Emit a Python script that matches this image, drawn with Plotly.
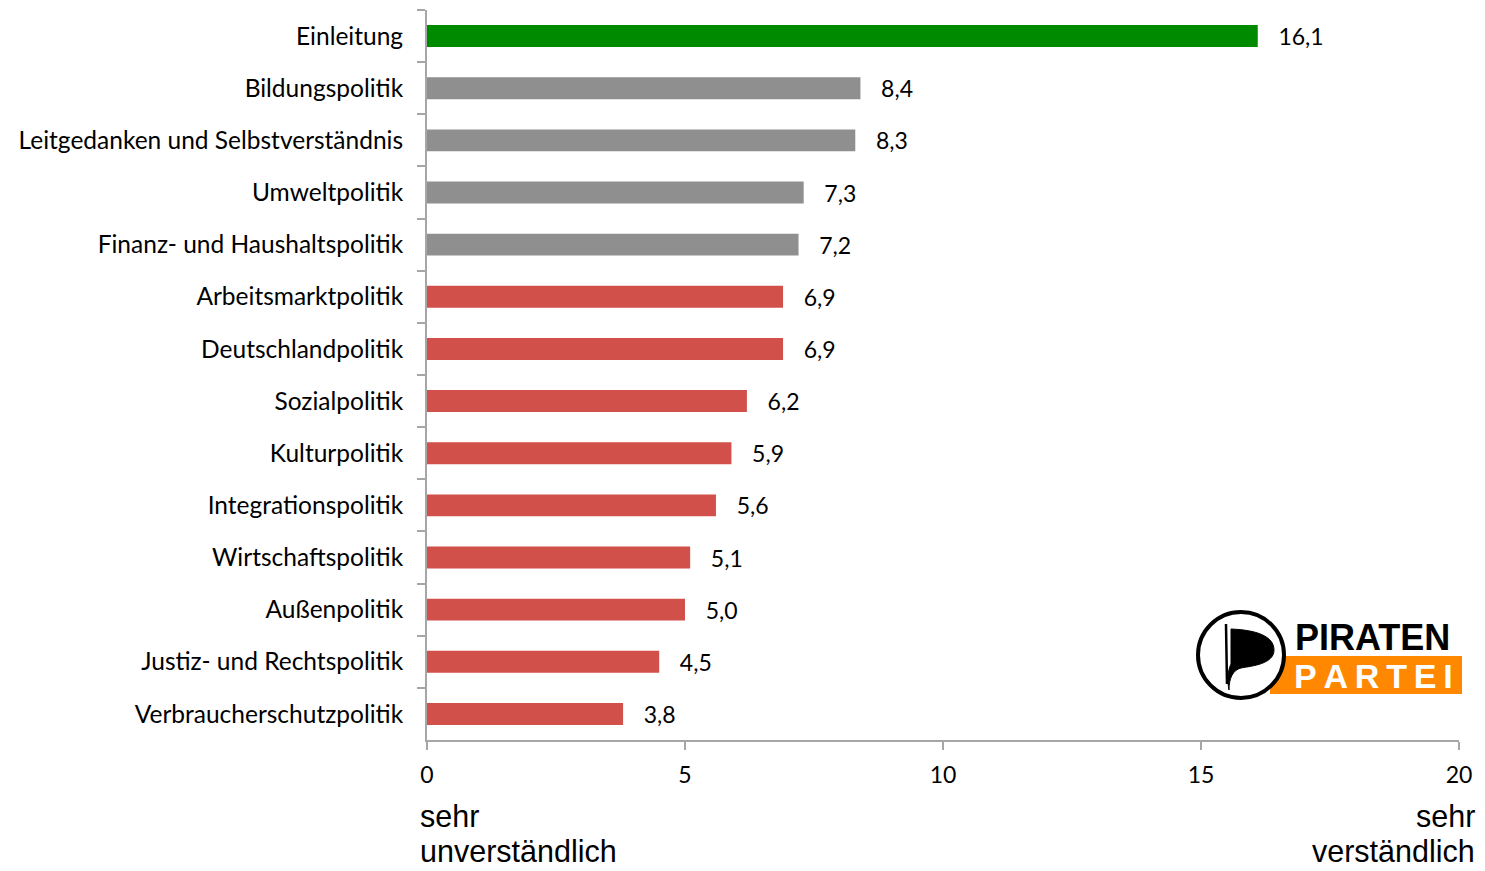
import plotly.graph_objects as go

categories = [
    "Einleitung", "Bildungspolitik", "Leitgedanken und Selbstverständnis",
    "Umweltpolitik", "Finanz- und Haushaltspolitik", "Arbeitsmarktpolitik",
    "Deutschlandpolitik", "Sozialpolitik", "Kulturpolitik", "Integrationspolitik",
    "Wirtschaftspolitik", "Außenpolitik", "Justiz- und Rechtspolitik",
    "Verbraucherschutzpolitik",
]
values = [16.1, 8.4, 8.3, 7.3, 7.2, 6.9, 6.9, 6.2, 5.9, 5.6, 5.1, 5.0, 4.5, 3.8]
groups = ["intro"] + ["grey"] * 4 + ["red"] * 9
x_ticks = [0, 5, 10, 15, 20]

group_colors = {"intro": "#008A00", "grey": "#8F8F8F", "red": "#D2504A"}
bar_colors = [group_colors[g] for g in groups]

W, H = 1485, 871
L, R, T, B = 427, 1459, 10, 740


def px(x, y):
    # pixel position -> paper coordinates
    return (x - L) / (R - L), (B - y) / (B - T)


def pt(x, y):
    return "{:.5f},{:.5f}".format(*px(x, y))


fig = go.Figure(go.Bar(
    x=values,
    y=categories,
    orientation="h",
    marker=dict(color=bar_colors, line=dict(width=0)),
    width=0.42,
    text=values,
    texttemplate="   %{x:.1f}",
    textposition="outside",
    constraintext="none",
    textfont=dict(family="Lato", size=23, color="#000000"),
    cliponaxis=False,
    hoverinfo="skip",
))

fig.update_layout(
    width=W, height=H,
    margin=dict(l=L, r=W - R, t=T, b=H - B),
    plot_bgcolor="white",
    paper_bgcolor="white",
    separators=",.",
    showlegend=False,
    font=dict(family="Lato", size=24, color="#000000"),
)

fig.update_yaxes(
    autorange="reversed",
    showline=True, linecolor="#A6A6A6", linewidth=2,
    ticks="outside", tickson="boundaries", ticklen=8, tickcolor="#A6A6A6", tickwidth=2,
    ticklabelstandoff=17,
    showgrid=False,
    tickfont=dict(family="Lato", size=24.5, color="#000000"),
)
fig.update_xaxes(
    range=[0, 20],
    tickvals=x_ticks,
    showline=True, linecolor="#A6A6A6", linewidth=2,
    ticks="outside", ticklen=8, tickcolor="#A6A6A6", tickwidth=2,
    showgrid=False, zeroline=False,
    tickfont=dict(family="Lato", size=23, color="#000000"),
    ticklabelstandoff=5,
)

# axis end captions, one annotation per line
captions = [
    ("sehr", 419, 816, "left"), ("unverständlich", 419, 851, "left"),
    ("sehr", 1476, 816, "right"), ("verständlich", 1476, 851, "right"),
]
for txt, cx, cy, side in captions:
    ax, ay = px(cx, cy)
    fig.add_annotation(text=txt, xref="paper", yref="paper", x=ax, y=ay,
                       xanchor=side, yanchor="middle", showarrow=False, borderpad=0,
                       font=dict(family="Liberation Sans", size=30.5, color="#000000"))

# Piratenpartei logo
ox0, oy0 = px(1270, 694)
ox1, oy1 = px(1462, 656)
fig.add_shape(type="rect", xref="paper", yref="paper", x0=ox0, y0=oy0, x1=ox1, y1=oy1,
              fillcolor="#FF8800", line=dict(width=0))
cx0, cy0 = px(1198, 698)
cx1, cy1 = px(1284, 612)
fig.add_shape(type="circle", xref="paper", yref="paper", x0=cx0, y0=cy0, x1=cx1, y1=cy1,
              fillcolor="white", line=dict(color="black", width=4))

flag = ("M " + pt(1231, 629) + " C " + pt(1256, 630) + " " + pt(1274, 636) + " " + pt(1274, 650)
        + " C " + pt(1274, 664) + " " + pt(1252, 666) + " " + pt(1241, 668)
        + " C " + pt(1233, 670) + " " + pt(1229, 678) + " " + pt(1229, 690)
        + " C " + pt(1227, 680) + " " + pt(1228, 670) + " " + pt(1231, 664) + " Z")
fig.add_shape(type="path", xref="paper", yref="paper", path=flag,
              fillcolor="black", line=dict(color="black", width=1))
pole = "M " + pt(1226, 624) + " L " + pt(1227, 684)
fig.add_shape(type="path", xref="paper", yref="paper", path=pole,
              line=dict(color="black", width=2.5))

tx, ty = px(1372, 637)
fig.add_annotation(text="<b>PIRATEN</b>", xref="paper", yref="paper", x=tx, y=ty,
                   showarrow=False, xanchor="center", yanchor="middle",
                   font=dict(family="Liberation Sans", size=36, color="black"))
tx, ty = px(1373, 676)
fig.add_annotation(text="<b>P\u2009A\u2009R\u2009T\u2009E\u2009I</b>", xref="paper", yref="paper",
                   x=tx, y=ty, showarrow=False, xanchor="center", yanchor="middle",
                   font=dict(family="Liberation Sans", size=34, color="white"))

fig.write_html("out.html", config={"displayModeBar": False},
               post_script="document.body.style.margin='0';")
